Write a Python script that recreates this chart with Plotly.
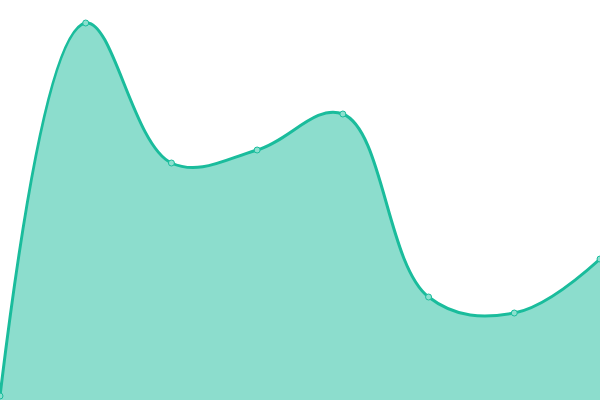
import plotly.graph_objects as go

# data (value = height above the bottom edge)
labels = ["A", "B", "C", "D", "E", "F", "G", "H"]
values = [4, 377, 237, 250, 286, 103, 87, 141]

fig = go.Figure()
fig.add_trace(go.Scatter(
    x=list(range(len(labels))), y=values,
    mode="lines+markers",
    line=dict(color="#1abc9c", width=3, shape="spline", smoothing=1.1),
    fill="tozeroy", fillcolor="rgba(26,188,156,0.5)",
    marker=dict(size=6, color="#8ce0cf", line=dict(color="#1abc9c", width=1)),
    cliponaxis=False,
))

fig.update_layout(
    width=600, height=400,
    margin=dict(l=0, r=0, t=0, b=0),
    paper_bgcolor="white", plot_bgcolor="white",
    showlegend=False,
    xaxis=dict(visible=False, range=[0, len(labels) - 1]),
    yaxis=dict(visible=False, range=[0, 400]),
)

# drop the default page margin so the chart fills the window
fig.write_html("out.html", config={"displayModeBar": False},
               post_script="document.body.style.margin='0';document.body.style.overflow='hidden';")
